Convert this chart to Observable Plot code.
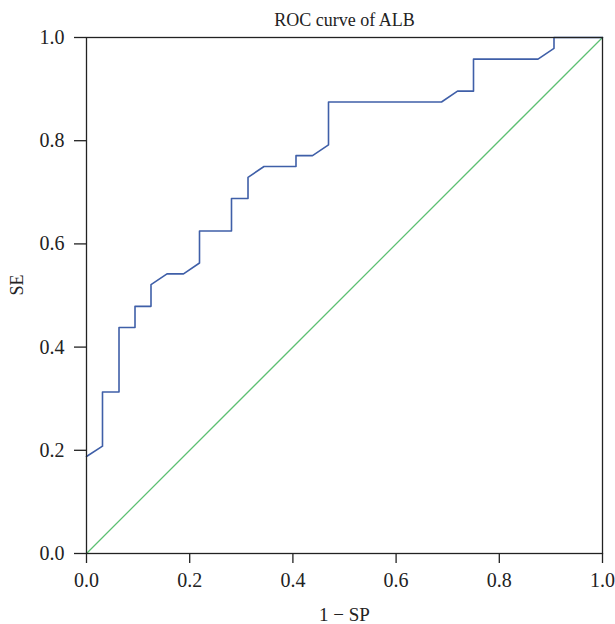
<!DOCTYPE html>
<html>
<head>
<meta charset="utf-8">
<script src="https://cdn.jsdelivr.net/npm/d3@7"></script>
<script src="https://cdn.jsdelivr.net/npm/@observablehq/plot@0.6"></script>
<style>
  html, body { margin: 0; padding: 0; background: #fff; }
</style>
</head>
<body>
<div id="chart"></div>
<script>
// ROC curve points (1 - SP, SE)
const fpr = [0, 0.031, 0.031, 0.063, 0.063, 0.094, 0.094, 0.125, 0.125, 0.156, 0.188, 0.219, 0.219, 0.281, 0.281, 0.313, 0.313, 0.344, 0.406, 0.406, 0.438, 0.469, 0.469, 0.688, 0.719, 0.75, 0.75, 0.875, 0.906, 0.906, 1.0];
const tpr = [0.188, 0.208, 0.313, 0.313, 0.438, 0.438, 0.479, 0.479, 0.521, 0.542, 0.542, 0.563, 0.625, 0.625, 0.688, 0.688, 0.729, 0.75, 0.75, 0.771, 0.771, 0.792, 0.875, 0.875, 0.896, 0.896, 0.958, 0.958, 0.979, 1.0, 1.0];
// Reference diagonal
const diagX = [0, 1];
const diagY = [0, 1];
const ticks = [0, 0.2, 0.4, 0.6, 0.8, 1.0];
const title = "ROC curve of ALB";
const xLabel = "1 \u2212 SP";
const yLabel = "SE";

const roc = fpr.map((x, i) => ({x, y: tpr[i]}));
const diag = diagX.map((x, i) => ({x, y: diagY[i]}));

const chart = Plot.plot({
  width: 615,
  height: 624,
  marginLeft: 86,
  marginRight: 13,
  marginTop: 37,
  marginBottom: 71,
  style: {fontFamily: "'Liberation Serif', 'DejaVu Serif', serif", fontSize: "18px", color: "#222", background: "#fff"},
  x: {domain: [0, 1]},
  y: {domain: [0, 1]},
  marks: [
    Plot.line(diag, {x: "x", y: "y", stroke: "#5cbf72", strokeWidth: 1.3}),
    Plot.line(roc, {x: "x", y: "y", stroke: "#3f5fa8", strokeWidth: 1.6}),
    Plot.frame({stroke: "#222", strokeWidth: 1.3}),
    Plot.axisX({ticks, tickFormat: d3.format(".1f"), tickSize: 10, tickPadding: 9, label: null, fontSize: 20, stroke: "#222", strokeWidth: 1.3}),
    Plot.axisY({ticks, tickFormat: d3.format(".1f"), tickSize: 12, tickPadding: 10, label: null, fontSize: 20, stroke: "#222", strokeWidth: 1.3}),
    Plot.text([title], {frameAnchor: "top", lineAnchor: "middle", dy: -17, text: d => d, fontSize: 18}),
    Plot.text([xLabel], {frameAnchor: "bottom", lineAnchor: "middle", dy: 61, text: d => d, fontSize: 19}),
    Plot.text([yLabel], {frameAnchor: "left", dx: -69, rotate: -90, text: d => d, fontSize: 18})
  ]
});
document.getElementById("chart").appendChild(chart);
</script>
</body>
</html>
